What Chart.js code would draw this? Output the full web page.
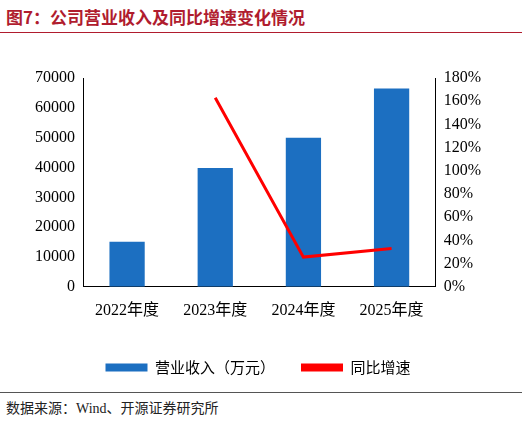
<!DOCTYPE html>
<html><head><meta charset="utf-8">
<script src="https://cdn.jsdelivr.net/npm/chart.js@4/dist/chart.umd.min.js"></script>
<style>
body{margin:0;width:522px;height:422px;background:#fff;position:relative;overflow:hidden;font-family:"Noto Sans CJK SC",sans-serif}
#t{position:absolute;left:6px;top:4px;font-size:17px;font-weight:bold;color:#b01c2e}
#l1{position:absolute;left:0;top:32px;width:522px;border-top:1px solid #b01c2e}
#l2{position:absolute;left:0;top:392px;width:522px;border-top:1px solid #555}
#s{position:absolute;left:6px;top:397px;font-size:14px;color:#222}
#w{position:absolute;left:0;top:40px;width:522px;height:345px}
</style></head><body>
<div id="t">图7：公司营业收入及同比增速变化情况</div><div id="l1"></div>
<div id="w"><canvas id="c"></canvas></div>
<div id="l2"></div>
<div id="s">数据来源：<span style="font-family:'Liberation Serif'">Wind</span>、开源证券研究所</div>
<script>
const categories=["2022年度","2023年度","2024年度","2025年度"];
const revenue=[15100,39800,50000,66500];
const growth=[null,163,25.6,33];
const serif="'Liberation Serif','Noto Sans CJK SC'";
new Chart(document.getElementById('c'),{
data:{labels:categories,datasets:[
{type:'line',label:'同比增速',data:growth,yAxisID:'y1',borderColor:'#ff0000',backgroundColor:'#ff0000',borderWidth:3,pointRadius:0,spanGaps:false,order:0},
{type:'bar',label:'营业收入（万元）',data:revenue,yAxisID:'y',backgroundColor:'#1c6fc1',barPercentage:0.4,categoryPercentage:1,order:1}
]},
options:{responsive:true,maintainAspectRatio:false,animation:false,
layout:{padding:{top:38,left:32,right:38,bottom:0}},
plugins:{legend:{position:'bottom',reverse:true,labels:{color:'#000',font:{family:"'Noto Sans CJK SC'",size:15},boxWidth:42,boxHeight:8,padding:26,
generateLabels(ch){return ch.data.datasets.map((d,i)=>({text:d.label,fillStyle:d.type==='bar'?'#1c6fc1':'#ff0000',strokeStyle:'transparent',lineWidth:0,datasetIndex:i}))}}},tooltip:{enabled:false}},
scales:{
x:{grid:{display:false,drawTicks:false},border:{color:'#000'},ticks:{color:'#000',padding:14,font:{family:serif,size:16}}},
y:{position:'left',min:0,max:70000,grid:{display:false,drawTicks:true,tickLength:5},border:{color:'#000'},ticks:{stepSize:10000,color:'#000',font:{family:serif,size:16},callback:v=>String(v)}},
y1:{position:'right',min:0,max:180,grid:{display:false,tickLength:5},border:{color:'#000'},ticks:{stepSize:20,color:'#000',font:{family:serif,size:16},callback:v=>v+'%'}}
}}});
</script></body></html>
